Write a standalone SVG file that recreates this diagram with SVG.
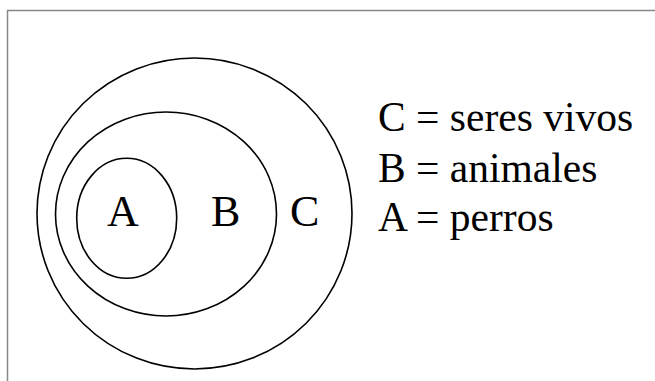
<svg xmlns="http://www.w3.org/2000/svg" width="655" height="381" viewBox="0 0 655 381">
<style>
.set{fill:none;stroke:#000;stroke-width:1.6}
text{font-family:"Liberation Serif","Times New Roman",serif;fill:#000}
.lbl{font-size:44px}
.leg{font-size:41.5px}
</style>
<rect width="655" height="381" fill="#fff"/>
<path d="M7.5,381 V10.5 H655" fill="none" stroke="#888" stroke-width="1.5"/>
<g id="C"><ellipse class="set" cx="194.5" cy="213.5" rx="157.5" ry="155.5"/><text class="lbl" x="290" y="226">C</text></g>
<g id="B"><ellipse class="set" cx="166" cy="214" rx="110.5" ry="102"/><text class="lbl" x="211" y="226">B</text></g>
<g id="A"><ellipse class="set" cx="126.7" cy="218.3" rx="50" ry="60"/><text class="lbl" x="107" y="226">A</text></g>
<g id="legend">
<text class="leg" x="378" y="131">C = seres vivos</text>
<text class="leg" x="378" y="182">B = animales</text>
<text class="leg" x="378" y="231">A = perros</text>
</g>
</svg>
